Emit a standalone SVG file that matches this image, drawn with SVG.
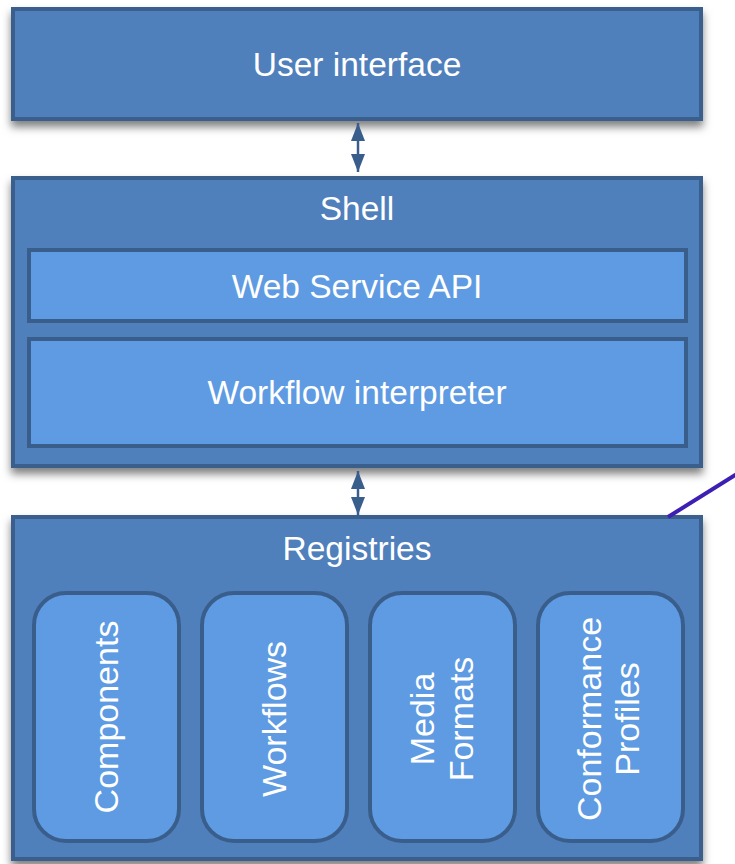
<svg xmlns="http://www.w3.org/2000/svg" width="735" height="864" viewBox="0 0 735 864">
<defs>
<style>
.outer{fill:#4f80bc;stroke:#3a5e8c;stroke-width:4}
.inner{fill:#5e9be2;stroke:#3a5e8c;stroke-width:4}
.t{font-family:"Liberation Sans",Arial,sans-serif;font-size:33.5px;fill:#ffffff;text-anchor:middle}
.v{font-size:34px}
.conn{stroke:#3a5e8c;stroke-width:2.5;fill:none}
</style>
<filter id="sh" x="-5%" y="-10%" width="110%" height="130%">
<feDropShadow dx="0" dy="6" stdDeviation="4" flood-color="#000" flood-opacity="0.5"/>
</filter>
<marker id="ah" viewBox="0 0 18 14" refX="18" refY="7" markerWidth="18" markerHeight="14" markerUnits="userSpaceOnUse" orient="auto-start-reverse">
<path d="M0,0 L18,7 L0,14 Z" fill="#3a5e8c"/>
</marker>
</defs>
<rect width="735" height="864" fill="#ffffff"/>
<g id="user-interface">
<rect class="outer" x="13" y="9" width="688" height="110" filter="url(#sh)"/>
<text class="t" x="357" y="76">User interface</text>
</g>
<g id="shell">
<rect class="outer" x="13" y="178" width="688" height="288" filter="url(#sh)"/>
<text class="t" x="357" y="220">Shell</text>
</g>
<g id="web-service-api">
<rect class="inner" x="29" y="250" width="657" height="71"/>
<text class="t" x="357" y="298">Web Service API</text>
</g>
<g id="workflow-interpreter">
<rect class="inner" x="29" y="339" width="657" height="107"/>
<text class="t" x="357" y="404">Workflow interpreter</text>
</g>
<g id="registries">
<rect class="outer" x="13" y="517" width="688" height="342" filter="url(#sh)"/>
<text class="t" x="357" y="560">Registries</text>
</g>
<g id="components">
<rect class="inner" x="34" y="593" width="145" height="248" rx="32"/>
<text class="t v" transform="translate(106,717) rotate(-90)" dy="0.35em">Components</text>
</g>
<g id="workflows">
<rect class="inner" x="202" y="593" width="145" height="248" rx="32"/>
<text class="t v" transform="translate(274,719) rotate(-90)" dy="0.35em">Workflows</text>
</g>
<g id="media-formats">
<rect class="inner" x="370" y="593" width="145" height="248" rx="32"/>
<text class="t v" transform="translate(442,719) rotate(-90)"><tspan x="0" dy="-0.25em">Media</tspan><tspan x="0" dy="1.15em">Formats</tspan></text>
</g>
<g id="conformance-profiles">
<rect class="inner" x="538" y="593" width="145" height="248" rx="32"/>
<text class="t v" transform="translate(609,719) rotate(-90)"><tspan x="0" dy="-0.25em">Conformance</tspan><tspan x="0" dy="1.12em">Profiles</tspan></text>
</g>
<g id="connectors">
<line class="conn" x1="358" y1="123" x2="358" y2="172" marker-start="url(#ah)" marker-end="url(#ah)"/>
<line class="conn" x1="358" y1="471" x2="358" y2="515" marker-start="url(#ah)" marker-end="url(#ah)"/>
<line x1="668" y1="517" x2="740" y2="472" stroke="#3d1fb3" stroke-width="4"/>
</g>
</svg>
